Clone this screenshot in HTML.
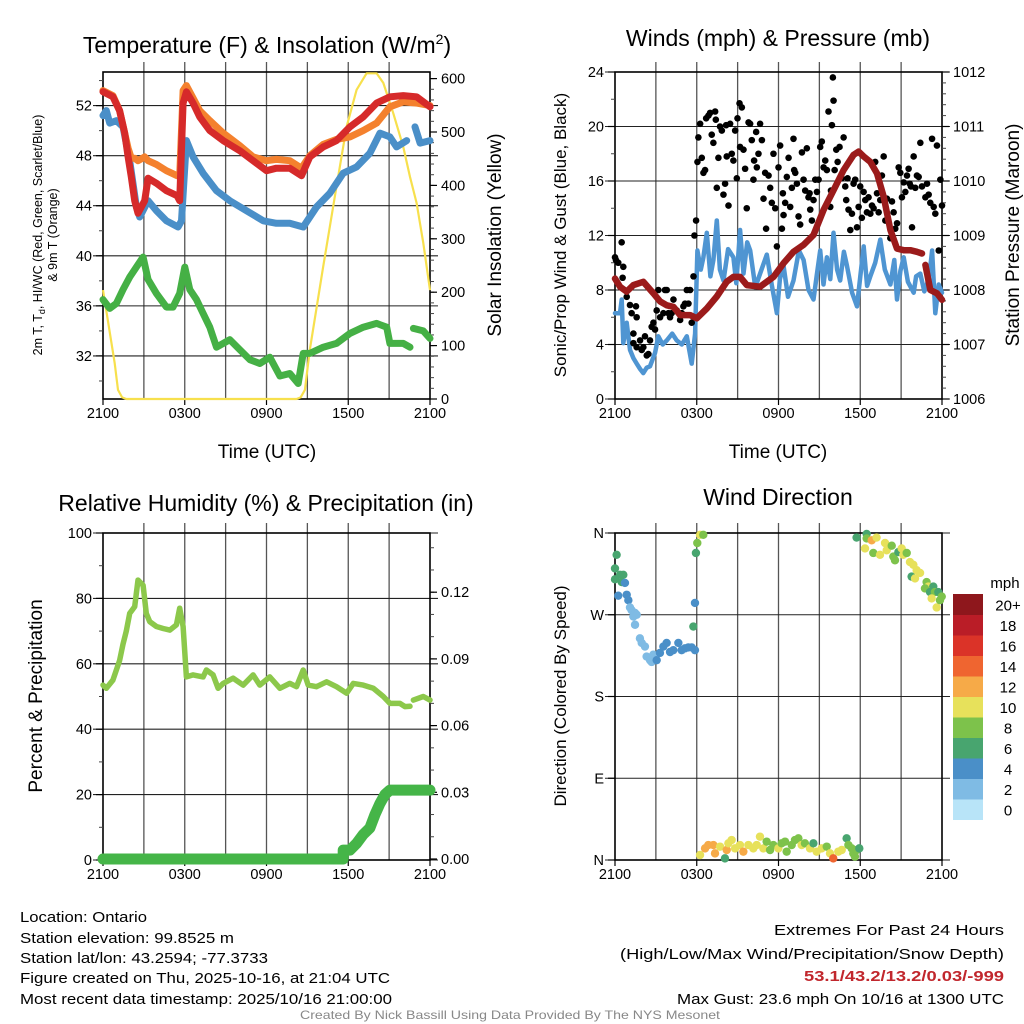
<!DOCTYPE html>
<html><head><meta charset="utf-8">
<style>
html,body{margin:0;padding:0;background:#fff;}
svg{display:block;font-family:"Liberation Sans",sans-serif;}
</style></head>
<body>
<svg id="fig" width="1024" height="1024" viewBox="0 0 1024 1024" xmlns="http://www.w3.org/2000/svg">
<g id="layer"></g>
<!-- titles -->
<text x="267" y="53" font-size="23" text-anchor="middle">Temperature (F) &amp; Insolation (W/m<tspan font-size="14" dy="-9">2</tspan><tspan dy="9">)</tspan></text>
<text x="778" y="46" font-size="23" text-anchor="middle">Winds (mph) &amp; Pressure (mb)</text>
<text x="266" y="511" font-size="23" text-anchor="middle">Relative Humidity (%) &amp; Precipitation (in)</text>
<text x="778" y="505" font-size="23" text-anchor="middle">Wind Direction</text>
<!-- x titles -->
<text x="267" y="458" font-size="19" text-anchor="middle">Time (UTC)</text>
<text x="778" y="458" font-size="19" text-anchor="middle">Time (UTC)</text>
<!-- y titles -->
<text transform="translate(42,235) rotate(-90)" font-size="12.5" text-anchor="middle">2m T, T<tspan font-size="9" dy="3">d</tspan><tspan dy="-3">, HI/WC (Red, Green, Scarlet/Blue)</tspan></text>
<text transform="translate(57,235) rotate(-90)" font-size="12.5" text-anchor="middle">&amp; 9m T (Orange)</text>
<text transform="translate(501,235) rotate(-90)" font-size="19" text-anchor="middle">Solar Insolation (Yellow)</text>
<text transform="translate(566,235) rotate(-90)" font-size="17" text-anchor="middle">Sonic/Prop Wind &amp; Gust (Blue, Black)</text>
<text transform="translate(1019,235) rotate(-90)" font-size="19" text-anchor="middle">Station Pressure (Maroon)</text>
<text transform="translate(42,696) rotate(-90)" font-size="19" text-anchor="middle">Percent &amp; Precipitation</text>
<text transform="translate(566,696) rotate(-90)" font-size="17" text-anchor="middle">Direction (Colored By Speed)</text>
<!-- colorbar title -->
<text x="1005" y="588" font-size="15" text-anchor="middle">mph</text>
<!-- footer -->
<g font-family="'Liberation Sans Narrow','Liberation Sans',sans-serif" font-size="15">
<text x="20" y="922" textLength="127" lengthAdjust="spacingAndGlyphs">Location: Ontario</text>
<text x="20" y="943" textLength="214" lengthAdjust="spacingAndGlyphs">Station elevation: 99.8525 m</text>
<text x="20" y="963" textLength="248" lengthAdjust="spacingAndGlyphs">Station lat/lon: 43.2594; -77.3733</text>
<text x="20" y="983" textLength="370" lengthAdjust="spacingAndGlyphs">Figure created on Thu, 2025-10-16, at 21:04 UTC</text>
<text x="20" y="1004" textLength="372" lengthAdjust="spacingAndGlyphs">Most recent data timestamp: 2025/10/16 21:00:00</text>
<text x="1004" y="935" text-anchor="end" textLength="230" lengthAdjust="spacingAndGlyphs">Extremes For Past 24 Hours</text>
<text x="1004" y="959" text-anchor="end" textLength="384" lengthAdjust="spacingAndGlyphs">(High/Low/Max Wind/Precipitation/Snow Depth)</text>
<text x="1004" y="981" text-anchor="end" fill="#c1272d" font-weight="bold" textLength="200" lengthAdjust="spacingAndGlyphs">53.1/43.2/13.2/0.03/-999</text>
<text x="1004" y="1004" text-anchor="end" textLength="327" lengthAdjust="spacingAndGlyphs">Max Gust: 23.6 mph On 10/16 at 1300 UTC</text>
<text x="510" y="1019" text-anchor="middle" font-size="12" fill="#888" textLength="420" lengthAdjust="spacingAndGlyphs">Created By Nick Bassill Using Data Provided By The NYS Mesonet</text>
</g>
</svg>
<script>
// ===== Panel 1 data: temperature (F) & insolation =====
const tempHours = [0,0.73,1.22,1.59,1.84,2.08,2.33,2.57,3.06,3.31,3.92,4.65,5.44,5.63,5.88,6.12,6.61,7.1,7.84,8.82,10.04,11.02,12,12.73,13.71,14.57,15.18,16.16,17.14,18.12,19.1,20.08,21.06,22.04,23.02,24];
const tempRed = [53.1,52.7,51.6,49.8,47.9,46.3,44.4,43.4,44.4,46.2,45.8,45.2,44.8,44.4,52.2,53.1,52.2,51.1,50,49.2,48.4,47.6,46.8,47,47,46.4,47.9,48.7,49.2,50.3,51.1,52.2,52.7,52.8,52.7,51.9];
const tempOrange = [53.2,52.8,51.6,49.8,48.6,47.8,47.8,47.6,47.9,47.6,47.3,46.8,46.4,46.4,53.2,53.6,52.6,51.6,50.8,49.8,48.8,47.9,47.6,47.7,47.6,47,48,48.9,49.3,49.5,50,50.6,51.9,52.3,52.2,52];
const chillHours = [0,0.24,0.49,0.98,1.47,1.96,2.45,2.69,3.31,3.92,4.65,5.51,5.76,6.12,6.61,7.35,8.33,9.31,10.53,11.76,12.73,13.71,14.69,15.67,16.65,17.63,18.61,19.59,20.33,21.06,21.55,22.29,22.5,22.9,23.27,24];
const chillBlue = [51.2,51.6,50.6,50.8,50.3,47.6,43.9,43.1,44.4,43.6,42.8,42.3,42.8,49.2,47.9,46.6,45.2,44.4,43.6,42.8,42.6,42.6,42.3,43.9,45,46.6,47.1,48.2,49.8,49.5,48.7,49.2,null,50.3,49,49.2];
const dewHours = [0,0.49,0.98,1.47,1.96,2.45,2.94,3.31,3.92,4.65,5.14,5.63,6,6.37,6.86,7.35,7.84,8.33,9.31,10.04,10.78,11.51,12.24,12.98,13.71,14.33,14.69,15.18,16.16,17.14,18.12,19.1,20.08,20.82,21.06,22.04,22.53,22.6,22.78,23.51,24];
const dewGreen = [36.5,35.8,36.2,37.3,38.3,39.1,39.9,38.1,37,35.9,35.9,37,39.1,37.3,36.5,35.4,34.3,32.7,33.3,32.5,31.7,31.4,31.9,30.4,30.6,29.8,32.2,32.2,32.7,33,33.8,34.3,34.6,34.3,33,33,32.7,null,34.2,34,33.4];
const solarHours = [0,0.86,1.1,1.4,1.71,14.2,14.5,14.82,15.18,16.16,17.14,17.88,18.61,19.35,20.08,20.57,21.31,22.04,22.53,23.02,23.51,24];
const solarWm2 = [204,67,17,3,0,0,3,17,92,248,398,510,579,610,610,592,535,472,416,367,292,204];
const tempTicks = [32,36,40,44,48,52];
const solarTicks = [0,100,200,300,400,500,600];
const timeTickLabels = ["2100","0300","0900","1500","2100"];

// ===== Panel 2 data: winds (mph) & pressure (mb) =====
const windHours = [0,0.37,0.49,0.61,0.86,1.1,1.35,1.59,1.84,2.08,2.33,2.57,2.94,3.18,3.5,3.8,4.2,4.53,4.9,5.27,5.63,5.88,6.05,6.3,6.49,6.74,7.0,7.22,7.47,7.7,7.96,8.3,8.69,8.9,9.18,9.43,9.7,9.92,10.3,10.65,11.14,11.5,11.88,12.1,12.37,12.7,13.1,13.5,13.84,14.2,14.57,14.8,15.06,15.3,15.55,15.8,16.04,16.3,16.53,16.8,17.02,17.4,17.76,18.0,18.25,18.5,18.74,19.1,19.47,19.8,20.21,20.5,20.7,20.95,21.19,21.5,21.92,22.1,22.41,22.7,22.9,23.1,23.27,23.51,23.76,24];
const windSonic = [6.3,6.3,7.3,4.1,5.6,3.6,3.0,2.6,2.2,1.9,2.3,2.4,3.4,4.6,4.0,4.3,4.8,4.3,4.0,4.6,2.6,4.8,10.9,9.5,10.4,12.2,9.0,10.2,13.1,9.5,8.7,11.0,10.4,8.5,12.4,9.2,11.5,10.9,8.2,9.2,10.6,8.4,6.3,8.8,9.8,7.5,8.7,10.9,10.2,8.0,7.3,9.0,10.9,8.4,10.4,8.8,12.2,9.5,8.7,10.8,9.8,7.8,6.8,9.0,11.2,8.3,9.0,10.0,11.7,9.5,8.4,10.2,7.3,9.4,10.4,8.6,7.8,9.0,9.2,7.9,8.4,9.3,10.9,6.3,8.4,7.8];
const gustHours = [0.0,0.07,0.24,0.49,0.61,0.56,0.86,1.1,1.22,1.54,1.59,1.35,1.35,1.59,1.84,1.96,2.08,2.2,2.33,2.45,2.57,2.69,2.82,2.94,3.06,3.18,3.31,3.55,3.67,3.8,3.92,4.04,4.16,4.29,4.53,4.78,4.9,5.02,5.14,5.27,5.39,5.51,5.63,5.76,5.83,5.95,6.05,6.12,6.25,6.37,6.49,6.61,6.69,6.86,6.98,7.1,7.22,7.35,7.4,7.47,7.59,7.71,7.84,7.96,8.08,8.16,8.2,8.33,8.45,8.57,8.69,8.82,8.94,8.99,9.14,9.18,9.31,9.43,9.55,9.67,9.8,9.92,10.04,10.16,10.21,10.36,10.41,10.53,10.65,10.78,10.9,11.02,11.09,11.27,11.39,11.51,11.63,11.76,11.88,12.0,12.12,12.25,12.32,12.37,12.49,12.61,12.74,12.86,12.98,13.1,13.15,13.23,13.35,13.47,13.59,13.72,13.84,13.96,14.08,14.2,14.28,14.33,14.45,14.57,14.7,14.82,14.94,15.06,15.18,15.31,15.43,15.55,15.67,15.8,15.85,15.92,16.04,15.99,16.12,16.24,16.34,16.48,16.65,16.78,16.9,16.97,17.07,17.14,17.27,17.39,17.51,17.63,17.76,17.88,18.0,18.12,18.25,18.37,18.49,18.61,18.74,18.86,18.98,19.1,19.23,19.35,19.47,19.59,19.72,19.84,19.96,20.21,20.33,20.45,20.57,20.7,20.82,20.94,21.06,21.19,21.31,21.43,21.55,21.63,21.72,21.8,21.92,22.04,22.16,22.29,22.41,22.53,22.78,22.9,23.02,23.14,23.27,23.39,23.51,23.63,23.76,23.88,24.0];
const gustMph = [10.4,10.2,10.0,11.5,9.7,8.9,7.5,6.9,6.3,6.8,6.0,4.8,4.1,3.8,4.3,3.6,3.8,4.6,3.2,3.3,4.3,5.3,5.6,5.1,6.5,8.0,6.0,6.3,8.0,8.0,6.3,6.0,6.3,7.3,6.5,5.8,6.3,6.8,7.0,8.0,7.0,8.0,5.6,9.0,12.0,13.1,17.4,19.2,20.2,17.7,16.6,16.8,20.6,20.8,21.0,19.4,18.8,21.1,20.5,15.5,17.7,20.0,19.7,15.0,15.8,20.1,17.8,14.2,20.2,18.0,17.5,19.7,16.2,20.6,21.7,18.5,21.4,18.3,16.9,14.0,20.3,20.2,19.0,16.1,17.5,19.6,17.0,18.0,20.2,19.0,14.7,16.6,12.5,16.4,15.5,14.4,18.0,14.0,11.2,17.0,18.6,12.5,15.1,13.5,14.4,16.3,17.7,14.1,15.5,19.1,16.8,16.6,15.8,13.4,12.8,18.1,16.1,15.3,18.4,14.8,15.1,13.9,13.1,14.6,16.1,15.2,16.1,18.5,18.9,17.0,17.5,16.8,21.1,14.1,15.3,20.1,21.9,23.6,16.8,18.3,17.4,18.5,16.2,19.2,15.6,14.6,16.2,13.9,12.4,13.6,15.8,16.1,12.6,14.1,15.6,13.3,15.2,14.6,13.7,14.8,13.6,14.2,14.0,17.4,15.1,13.7,14.6,16.4,17.8,13.1,14.7,11.8,14.5,13.7,12.5,12.9,17.0,16.6,14.8,15.9,15.2,16.4,16.9,15.8,15.6,12.6,17.8,15.5,16.4,16.3,18.8,15.6,14.8,15.8,15.0,14.4,19.1,14.1,13.6,18.6,10.9,16.1,14.2];
const presHours = [0,0.37,0.86,1.35,2.08,2.82,3.31,3.8,4.29,4.78,5.51,6.0,6.74,7.47,8.2,8.69,9.18,9.67,10.65,11.63,12.37,13.1,13.84,14.57,15.31,16.04,16.78,17.51,17.88,18.25,18.74,19.23,19.72,20.21,20.7,21.19,21.67,22.16,22.53,22.65,22.78,23.14,23.63,24];
const presMb = [1008.21,1008.06,1007.97,1008.09,1008.15,1007.94,1007.79,1007.72,1007.69,1007.54,1007.54,1007.48,1007.66,1007.88,1008.15,1008.24,1008.24,1008.09,1008.06,1008.24,1008.49,1008.70,1008.83,1009.01,1009.47,1009.83,1010.2,1010.48,1010.54,1010.45,1010.35,1010.14,1009.71,1009.1,1008.76,1008.73,1008.73,1008.7,1008.67,null,1008.46,1008.0,1007.94,1007.82];
const windTicks = [0,4,8,12,16,20,24];
const presTicks = [1006,1007,1008,1009,1010,1011,1012];

// ===== Panel 3 data: relative humidity (%) & precipitation (in) =====
const rhHours = [0,0.24,0.73,1.22,1.47,1.71,1.96,2.33,2.57,2.94,3.18,3.43,3.92,4.41,4.9,5.39,5.63,5.88,6.12,6.61,7.35,7.59,8.08,8.45,8.82,9.55,10.29,11.02,11.51,12.24,12.98,13.71,14.2,14.69,15.06,15.67,16.41,17.14,17.88,18.37,19.1,19.84,20.57,21.06,21.8,22.16,22.53,22.6,22.78,23.51,24];
const rhPct = [53.5,52.5,55,61,66,70,75.4,77.5,85.6,84,75.4,72.9,71.4,70.8,70.3,71.9,77,71.4,56,56.6,56,58.1,56.6,52.5,54,55.6,53.5,56.6,53.5,56,52.5,54,53,58.1,53.5,53,54.5,53,51,54,53.5,52.5,50,47.9,47.9,46.9,47,null,48.9,50,48.9];
const precipHours = [0,17.63,17.63,18.12,18.61,19.1,19.59,19.96,20.33,20.7,21.06,24];
const precipIn = [0,0,0.004,0.004,0.007,0.011,0.014,0.02,0.025,0.029,0.031,0.031];
const rhTicks = [0,20,40,60,80,100];
const precipTicks = [0,0.03,0.06,0.09,0.12];
const precipTickLabels = ["0.00","0.03","0.06","0.09","0.12"];

// ===== Panel 4 data: wind direction (deg) colored by speed =====
const dirHours = [0,0.12,0,0.37,0.61,0.49,0.73,0.24,0.86,0.98,1.1,1.22,1.47,1.59,1.35,1.47,1.83,1.96,2.2,2.32,2.57,2.69,2.81,3.06,3.3,3.55,3.79,4.04,4.28,4.65,4.89,5.14,5.38,5.63,5.87,5.75,5.87,5.94,6.04,6.24,6.48,
 6.24,6.61,6.85,7.22,7.34,7.71,8.07,8.2,8.32,8.56,8.81,9.17,9.42,9.79,10.15,10.4,10.64,10.89,11.13,11.38,11.62,11.99,12.23,12.48,12.6,12.97,13.21,13.46,13.7,13.94,14.31,14.56,14.8,15.17,15.54,15.78,16.02,16.39,16.64,17.0,17.13,17.37,17.49,17.74,17.93,17.61,
 17.73,18.47,18.47,18.84,19.2,18.35,18.96,19.45,19.82,19.94,20.31,20.43,20.55,20.8,21.04,21.16,21.41,21.65,21.9,21.77,22.14,22.39,22.02,22.87,23.0,22.75,23.12,23.36,23.48,23.73,23.24,23.61,23.98,23.85];
const dirDeg = [321,336,309,314,314,306,305,291,292,286,278,275,272,270,268,259,244,239,235,224,220,218,226,220,228,235,239,229,231,239,231,233,234,234,231,257,283,338,349,358,358,
 5.5,12.8,16.5,16.5,7.3,14.7,1.8,11,18.4,22,12.8,16.5,9.2,16.5,12.8,16.5,25.7,12.8,20.2,11,16.5,12.8,18.4,20.2,9.2,16.5,22,23.9,16.5,18.4,12.8,18.4,9.2,12.8,14.7,7.3,1.8,9.2,11,23.9,16.5,12.8,7.3,11,12.8,3.7,
 355,359,354,352,355,343,338,336,349,341,346,334,330,339,343,336,338,328,325,312,319,316,310,306,301,299,295,301,295,295,288,278,290,286];
const dirSpeed = [7,7,7,7,7,7,5,5,5,5,3,3,3,3,3,3,3,3,3,3,3,3,3,5,5,5,5,5,5,5,5,5,5,5,5,7,5,7,9,11,9,
 11,13,13,13,13,11,7,13,11,11,11,11,13,11,11,11,11,11,9,9,9,11,9,9,9,9,9,9,11,9,11,7,11,11,9,11,15,11,11,7,9,9,9,9,7,9,
 7,7,9,13,11,11,9,11,11,11,9,9,9,7,11,11,9,11,11,7,11,11,11,9,11,9,7,7,9,7,11,11,9,9];
const dirTicks = [0,90,180,270,360];
const dirTickLabels = ["N","E","S","W","N"];
const speedBins = [0,2,4,6,8,10,12,14,16,18,20];
const speedBinLabels = ["0","2","4","6","8","10","12","14","16","18","20+"];
const speedColors = ["#b8e4f8","#7fbbe4","#4a8fc8","#48a56f","#7dc24b","#e7e15b","#f6aa48","#ef6530","#db3328","#ba1d27","#8e171c"];

// ===== drawing =====
const NS = "http://www.w3.org/2000/svg";
const layer = document.getElementById("layer");
function mk(tag, attrs, parent) {
  const e = document.createElementNS(NS, tag);
  for (const k in attrs) e.setAttribute(k, attrs[k]);
  (parent || layer).appendChild(e);
  return e;
}
function linScale(d0, d1, r0, r1) { return v => r0 + (v - d0) / (d1 - d0) * (r1 - r0); }

const P1 = {x0:103, x1:430, y0:72, y1:399};
const P2 = {x0:615, x1:942, y0:72, y1:399};
const P3 = {x0:103, x1:430, y0:533, y1:860};
const P4 = {x0:615, x1:942, y0:533, y1:860};

function gridAndFrame(P, name, yGridVals, yScale) {
  const g = mk("g", {});
  
  
  const xs = linScale(0, 24, P.x0, P.x1);
  for (let h = 3; h < 24; h += 3) {
    const l = mk("line", {x1:xs(h), x2:xs(h), y1:P.y0-10, y2:P.y1, stroke:"#555", "stroke-width":1.3}, g);
    
    
  }
  yGridVals.forEach(v => {
    const y = yScale(v);
    const l = mk("line", {x1:P.x0-10, x2:P.x1+8, y1:y, y2:y, stroke:"#222", "stroke-width":1.1}, g);
    
    
  });
  const f = mk("rect", {x:P.x0, y:P.y0, width:P.x1-P.x0, height:P.y1-P.y0, fill:"none", stroke:"#000", "stroke-width":1.6}, g);
  
  
  [0,6,12,18,24].forEach((h, i) => {
    const t = mk("line", {x1:xs(h), x2:xs(h), y1:P.y1, y2:P.y1+6, stroke:"#000", "stroke-width":1.2}, g);
    
    
    const tx = mk("text", {x:xs(h), y:P.y1+19, "font-size":14.5, "text-anchor":"middle"}, g);
    
    
    tx.textContent = timeTickLabels[i];
  });
  return xs;
}
function yTicks(P, name, ticks, labels, scale, side, minorStep, minorRange) {
  const g = mk("g", {});
  
  
  const xa = side === "left" ? P.x0 : P.x1;
  const dir = side === "left" ? -1 : 1;
  if (minorStep) {
    for (let v = minorRange[0]; v <= minorRange[1] + 1e-9; v += minorStep) {
      const y = scale(v);
      if (y < P.y0 - 0.5 || y > P.y1 + 0.5) continue;
      const m = mk("line", {x1:xa, x2:xa + dir*4, y1:y, y2:y, stroke:"#444", "stroke-width":1}, g);
      
      
    }
  }
  ticks.forEach((v, i) => {
    const y = scale(v);
    const t = mk("line", {x1:xa, x2:xa + dir*7, y1:y, y2:y, stroke:"#000", "stroke-width":1.2}, g);
    
    
    const tx = mk("text", {x:xa + dir*11, y:y+5, "font-size":14.5, "text-anchor": side === "left" ? "end" : "start"}, g);
    
    
    tx.textContent = labels[i];
  });
}
function pathFrom(xsArr, ysArr, xs, ys) {
  let d = "", pen = false;
  for (let i = 0; i < xsArr.length; i++) {
    if (ysArr[i] === null) { pen = false; continue; }
    d += (pen ? "L" : "M") + xs(xsArr[i]).toFixed(1) + " " + ys(ysArr[i]).toFixed(1);
    pen = true;
  }
  return d;
}

// ---- Panel 1 ----
const t1 = linScale(28.56, 54.66, 399, 72.3);
const s1 = linScale(0, 600, 399, 78.6);
const x1 = gridAndFrame(P1, "temperature", tempTicks, t1);
yTicks(P1, "temperature-y-axis", tempTicks, tempTicks.map(String), t1, "left", 2, [30,54]);
yTicks(P1, "insolation-y-axis", solarTicks, solarTicks.map(String), s1, "right", 20, [0,600]);
const solar = mk("path", {d:pathFrom(solarHours, solarWm2, x1, s1), fill:"none", stroke:"#f7e04d", "stroke-width":2.2, "stroke-linejoin":"round"});


const dew = mk("path", {d:pathFrom(dewHours, dewGreen, x1, t1), fill:"none", stroke:"#45b045", "stroke-width":7, "stroke-linejoin":"round", "stroke-linecap":"round"});


const chill = mk("path", {d:pathFrom(chillHours, chillBlue, x1, t1), fill:"none", stroke:"#4a8fc8", "stroke-width":7, "stroke-linejoin":"round", "stroke-linecap":"round"});


const orange = mk("path", {d:pathFrom(tempHours, tempOrange, x1, t1), fill:"none", stroke:"#f4812e", "stroke-width":7, "stroke-linejoin":"round", "stroke-linecap":"round"});


const red = mk("path", {d:pathFrom(tempHours, tempRed, x1, t1), fill:"none", stroke:"#d62a2a", "stroke-width":7, "stroke-linejoin":"round", "stroke-linecap":"round"});



// ---- Panel 2 ----
const w2 = linScale(0, 24, 399, 72);
const p2 = linScale(1006, 1012, 399, 72);
const x2 = gridAndFrame(P2, "winds", windTicks, w2);
yTicks(P2, "wind-y-axis", windTicks, windTicks.map(String), w2, "left", 2, [0,24]);
yTicks(P2, "pressure-y-axis", presTicks, presTicks.map(String), p2, "right", 0.2, [1006,1012]);
const sonic = mk("path", {d:pathFrom(windHours, windSonic, x2, w2), fill:"none", stroke:"#4f95d2", "stroke-width":4.5, "stroke-linejoin":"round", "stroke-linecap":"round"});


const gustG = mk("g", {});


gustHours.forEach((h, i) => {
  const c = mk("circle", {cx:x2(h), cy:w2(gustMph[i]), r:3.3, fill:"#000"}, gustG);
  
  
});
const pres = mk("path", {d:pathFrom(presHours, presMb, x2, p2), fill:"none", stroke:"#9b1b1b", "stroke-width":6.5, "stroke-linejoin":"round", "stroke-linecap":"round"});



// ---- Panel 3 ----
const r3 = linScale(0, 100, 860, 533);
const q3 = linScale(0, 0.03, 859, 792.3);
const x3 = gridAndFrame(P3, "humidity", rhTicks, r3);
yTicks(P3, "humidity-y-axis", rhTicks, rhTicks.map(String), r3, "left", 10, [0,100]);
yTicks(P3, "precipitation-y-axis", precipTicks, precipTickLabels, q3, "right", 0.01, [0,0.14]);
const rh = mk("path", {d:pathFrom(rhHours, rhPct, x3, r3), fill:"none", stroke:"#8cc84b", "stroke-width":5.5, "stroke-linejoin":"round", "stroke-linecap":"round"});


const pr = mk("path", {d:pathFrom(precipHours, precipIn, x3, q3), fill:"none", stroke:"#45b548", "stroke-width":11, "stroke-linejoin":"round", "stroke-linecap":"round"});



// ---- Panel 4 ----
const d4 = linScale(0, 360, 860, 533);
gridAndFrame(P4, "wind-direction", dirTicks, d4);
yTicks(P4, "direction-y-axis", dirTicks, dirTickLabels, d4, "left", 0, null);
function speedColor(s) {
  let idx = 0;
  for (let i = 0; i < speedBins.length; i++) if (s >= speedBins[i]) idx = i;
  return speedColors[idx];
}
const dirG = mk("g", {});


dirHours.forEach((h, i) => {
  const c = mk("circle", {cx:x2(h), cy:d4(dirDeg[i]), r:4.2, fill:speedColor(dirSpeed[i])}, dirG);
  
  
});
const cb = mk("g", {});


const cbTop = 594, cbH = 20.5;
speedBins.forEach((b, i) => {
  const y = cbTop + (speedBins.length - 1 - i) * cbH;
  const r = mk("rect", {x:953, y:y, width:30, height:cbH+0.5, fill:speedColors[i]}, cb);
  
  
  const t = mk("text", {x:1008, y:y+cbH/2+6, "font-size":15, "text-anchor":"middle"}, cb);
  
  
  t.textContent = speedBinLabels[i];
});
</script>
</body></html>
